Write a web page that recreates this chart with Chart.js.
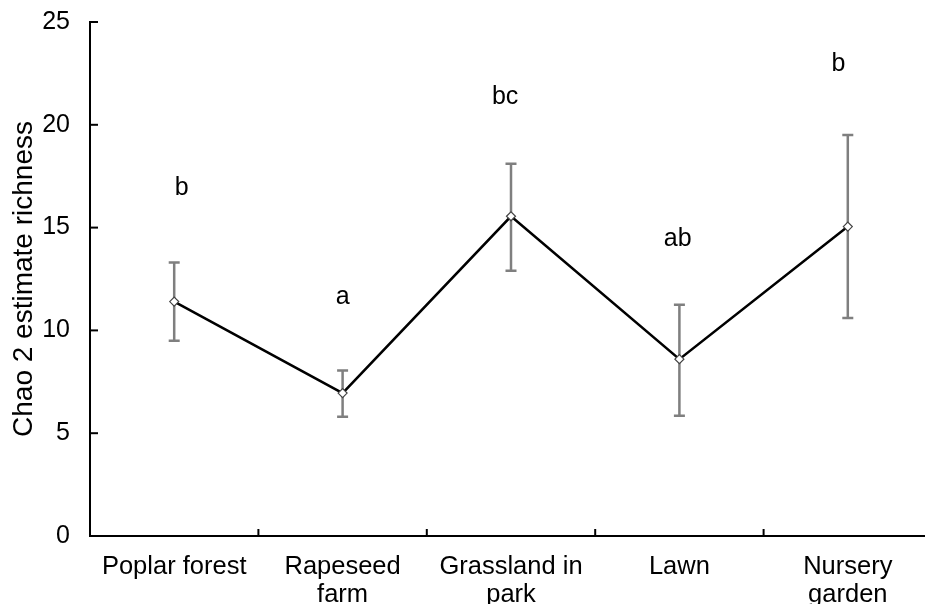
<!DOCTYPE html>
<html>
<head>
<meta charset="utf-8">
<script src="https://cdn.jsdelivr.net/npm/chart.js@4"></script>
<style>
  html, body { margin: 0; padding: 0; background: #fff; overflow: hidden; }
  #wrap { width: 940px; height: 604px; position: relative; }
</style>
</head>
<body>
<div id="wrap"><canvas id="chaoChart"></canvas></div>
<script>
// Site categories (multi-line labels)
const sites = [["Poplar forest"], ["Rapeseed", "farm"], ["Grassland in", "park"], ["Lawn"], ["Nursery", "garden"]];
// Mean Chao 2 richness and error bar ends
const chaoMean = [11.4, 6.95, 15.55, 8.6, 15.05];
const chaoUpper = [13.3, 8.05, 18.1, 11.25, 19.5];
const chaoLower = [9.5, 5.8, 12.9, 5.85, 10.6];
// Significance letters, the height they sit at, and small sideways shift (in categories)
const sigLetters = ["b", "a", "bc", "ab", "b"];
const sigLetterY = [16.6, 11.3, 21.0, 14.1, 22.6];
const sigLetterShift = [0.045, 0, -0.035, -0.01, -0.055];
const yTicks = [0, 5, 10, 15, 20, 25];

const FONT = "'Liberation Sans', Arial, sans-serif";

// error bars, significance letters and inward tick marks
const extrasPlugin = {
    id: "extras",
    beforeDatasetsDraw(chart) {
        const ctx = chart.ctx;
        const x = chart.scales.x;
        const y = chart.scales.y;
        ctx.save();
        ctx.strokeStyle = "#7f7f7f";
        ctx.lineWidth = 2.5;
        chaoMean.forEach((m, i) => {
            const px = x.getPixelForValue(i);
            const top = y.getPixelForValue(chaoUpper[i]);
            const bot = y.getPixelForValue(chaoLower[i]);
            ctx.beginPath();
            ctx.moveTo(px, top);
            ctx.lineTo(px, bot);
            ctx.moveTo(px - 5.5, top);
            ctx.lineTo(px + 5.5, top);
            ctx.moveTo(px - 5.5, bot);
            ctx.lineTo(px + 5.5, bot);
            ctx.stroke();
        });
        ctx.restore();
    },
    afterDatasetsDraw(chart) {
        const ctx = chart.ctx;
        const x = chart.scales.x;
        const y = chart.scales.y;
        ctx.save();

        // inward tick marks
        ctx.strokeStyle = "#000";
        ctx.lineWidth = 2;
        yTicks.forEach(v => {
            if (v === 0) return;
            const py = y.getPixelForValue(v);
            ctx.beginPath();
            ctx.moveTo(x.left, py);
            ctx.lineTo(x.left + 8, py);
            ctx.stroke();
        });
        for (let i = 1; i < sites.length; i++) {
            const px = (x.getPixelForValue(i - 1) + x.getPixelForValue(i)) / 2;
            ctx.beginPath();
            ctx.moveTo(px, y.bottom);
            ctx.lineTo(px, y.bottom - 7);
            ctx.stroke();
        }

        // letters
        ctx.fillStyle = "#000";
        ctx.font = "25px " + FONT;
        ctx.textAlign = "center";
        ctx.textBaseline = "alphabetic";
        const step = x.getPixelForValue(1) - x.getPixelForValue(0);
        sigLetters.forEach((t, i) => {
            ctx.fillText(t, x.getPixelForValue(i) + sigLetterShift[i] * step, y.getPixelForValue(sigLetterY[i]));
        });
        ctx.restore();
    }
};

const ctx = document.getElementById("chaoChart").getContext("2d");
new Chart(ctx, {
    type: "line",
    data: {
        labels: sites,
        datasets: [
            {
                label: "Chao 2",
                data: chaoMean,
                borderColor: "#000",
                borderWidth: 2.5,
                tension: 0,
                pointStyle: "rectRot",
                pointRadius: 4.5,
                pointBackgroundColor: "#fff",
                pointBorderColor: "#444",
                pointBorderWidth: 1.2,
                fill: false,
            },
        ],
    },
    options: {
        responsive: true,
        maintainAspectRatio: false,
        animation: false,
        layout: { padding: { top: 21, right: 8, left: 0, bottom: 0 } },
        plugins: {
            legend: { display: false },
            tooltip: { enabled: false },
        },
        scales: {
            x: {
                offset: true,
                grid: { display: false, offset: true },
                border: { display: true, color: "#000", width: 2 },
                ticks: {
                    color: "#000",
                    font: { family: FONT, size: 25.5, lineHeight: 1.1 },
                    padding: 9,
                    maxRotation: 0,
                    autoSkip: false,
                },
                afterFit(scale) { scale.height = 68; },
            },
            y: {
                min: 0,
                max: 25,
                grid: { display: false },
                border: { display: true, color: "#000", width: 2 },
                ticks: {
                    stepSize: 5,
                    color: "#000",
                    font: { family: FONT, size: 25, lineHeight: 0.8 },
                    padding: 12,
                },
                title: {
                    display: true,
                    text: "Chao 2 estimate richness",
                    color: "#000",
                    font: { family: FONT, size: 28 },
                    padding: { top: 7, bottom: 0 },
                },
                afterFit(scale) { scale.width = 90; },
            },
        },
    },
    plugins: [extrasPlugin],
});
</script>
</body>
</html>
